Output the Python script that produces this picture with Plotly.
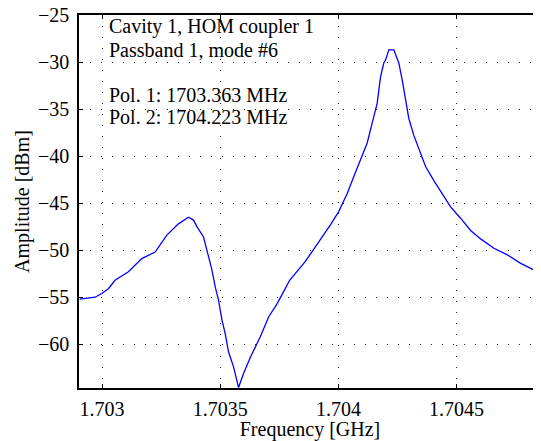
import plotly.graph_objects as go

# Frequency [GHz] and amplitude [dBm]
freq_ghz = [
    1.7029055, 1.7029703, 1.7029987, 1.7030267, 1.7030551, 1.7031114, 1.7031682,
    1.7032246, 1.7032741, 1.7033233, 1.7033657, 1.7033868, 1.7034012, 1.7034292,
    1.7034436, 1.7034648, 1.7034788, 1.7034928, 1.7035072, 1.7035212, 1.7035351,
    1.7035563, 1.7035775, 1.7035987, 1.7036271, 1.7036695, 1.7037046, 1.7037402,
    1.7037682, 1.7037936, 1.7038601, 1.7039237, 1.7039660, 1.7040012, 1.7040368,
    1.7040648, 1.7040932, 1.7041216, 1.7041427, 1.7041639, 1.7041779, 1.7041919,
    1.7041991, 1.7042131, 1.7042343, 1.7042554, 1.7042698, 1.7042838, 1.7042978,
    1.7043190, 1.7043474, 1.7043686, 1.7044037, 1.7044393, 1.7044745, 1.7045168,
    1.7045592, 1.7046016, 1.7046579, 1.7047147, 1.7047711, 1.7048274, 1.7048557,
]
amplitude_dbm = [
    -55.2, -55.0, -54.6, -54.1, -53.2, -52.3, -50.9,
    -50.2, -48.4, -47.2, -46.5, -46.8, -47.5, -48.6,
    -50.0, -52.1, -53.9, -55.3, -57.4, -58.9, -60.8,
    -62.4, -64.6, -63.1, -61.4, -59.2, -57.1, -55.7,
    -54.4, -53.2, -51.2, -48.9, -47.3, -45.9, -44.0,
    -42.2, -40.4, -38.6, -36.5, -34.4, -31.6, -30.1,
    -29.8, -28.7, -28.7, -30.1, -31.9, -33.9, -36.0,
    -37.8, -39.7, -41.1, -42.6, -44.0, -45.4, -46.6,
    -47.9, -48.8, -49.8, -50.5, -51.4, -52.1, -52.7,
]

x_tick_vals = [1.703, 1.7035, 1.704, 1.7045]
x_tick_text = ["1.703", "1.7035", "1.704", "1.7045"]
y_tick_vals = [-60, -55, -50, -45, -40, -35, -30, -25]
y_tick_text = ["\u221260", "\u221255", "\u221250", "\u221245", "\u221240", "\u221235", "\u221230", "\u221225"]

info_lines = [
    "Cavity 1, HOM coupler 1",
    "Passband 1, mode #6",
    "Pol. 1: 1703.363 MHz",
    "Pol. 2: 1704.223 MHz",
]

FONT = "Liberation Serif, Times New Roman, serif"

fig = go.Figure()
fig.add_trace(go.Scatter(
    x=freq_ghz, y=amplitude_dbm, mode="lines",
    line=dict(color="#0000ff", width=1.3), showlegend=False,
))

axis_common = dict(
    showline=True, linecolor="black", linewidth=1.5,
    ticks="inside", ticklen=4, tickcolor="black", tickwidth=1,
    showgrid=True, gridcolor="#222222", gridwidth=1, griddash="1px,10px",
    zeroline=False, tickfont=dict(family=FONT, size=20, color="black"),
    ticklabeloverflow="allow",
)

fig.update_xaxes(
    range=[1.7029025, 1.704857], tickvals=x_tick_vals, ticktext=x_tick_text,
    mirror="ticks", ticklabelstandoff=2,
    title=dict(text="Frequency [GHz]", font=dict(family=FONT, size=20, color="black"), standoff=9),
    **axis_common,
)
fig.update_yaxes(
    range=[-64.65, -25], tickvals=y_tick_vals, ticktext=y_tick_text,
    ticklabelstandoff=4,
    title=dict(text="Amplitude [dBm]", font=dict(family=FONT, size=20, color="black"), standoff=3),
    **axis_common,
)

line_y_px = [26.7, 50.0, 95.0, 116.7]
for txt, py in zip(info_lines, line_y_px):
    fig.add_annotation(
        text=txt, xref="paper", yref="paper",
        x=(107 - 79) / 462, y=(388 - py) / 373,
        xanchor="left", yanchor="middle", showarrow=False,
        font=dict(family=FONT, size=20, color="black"),
    )

# the page body has an 8px default margin, so the figure is sized to fill the rest
fig.update_layout(
    width=533, height=433,
    margin=dict(l=71, r=0, t=7, b=53, autoexpand=False),
    paper_bgcolor="white", plot_bgcolor="white",
)

fig.write_html("out.html")
